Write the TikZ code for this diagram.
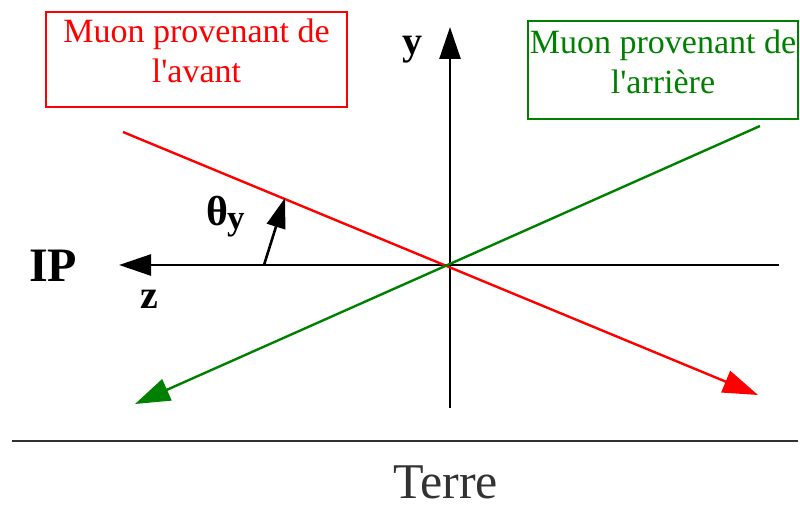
\documentclass[tikz,border=0pt]{standalone}
\usepackage{fontspec}
\setmainfont{Liberation Serif}[Ligatures=TeXOff]
\usetikzlibrary{arrows.meta}
\definecolor{mured}{RGB}{255,0,0}
\definecolor{mugreen}{RGB}{0,128,0}
\definecolor{ground}{RGB}{50,50,50}
\tikzset{
  axis/.style={line width=2.6pt, black, -{Triangle[length=32pt,width=21pt]}},
  track/.style={line width=2.4pt, -{Triangle[length=35pt,width=23pt]}},
  muonbox/.style={draw, line width=2.4pt, inner sep=0pt},
  muontext/.style={align=center, inner sep=0pt, anchor=north,
    font=\fontsize{34}{40}\selectfont},
  axlabel/.style={font=\bfseries\fontsize{40}{40}\selectfont, inner sep=0pt},
}
\begin{document}
\begin{tikzpicture}[x=1pt,y=-1pt]
\useasboundingbox (0,0) rectangle (800,511);
% boxes
\node[muonbox, mured, minimum width=301pt, minimum height=95pt] (front) at (196.5,59.5) {};
\node[muontext, text=mured] (fronttext) at (196.5,19) {Muon provenant de\\l'avant};
\node[muonbox, mugreen, minimum width=270pt, minimum height=98pt] (back) at (663,70) {};
\node[muontext, text=mugreen] (backtext) at (663,30) {Muon provenant de\\l'arrière};
% coordinates
\coordinate (O) at (450,265);
\coordinate (zR) at (779,265);
\coordinate (zL) at (119,265);
\coordinate (yB) at (450,408);
\coordinate (yT) at (450,27);
\coordinate (rS) at (123,132);
\coordinate (rE) at (758,395);
\coordinate (gS) at (760,126);
\coordinate (gE) at (135,404);
\coordinate (tS) at (264,265);
\coordinate (tE) at (285,198);
\coordinate (gl) at (12,441);
\coordinate (gr) at (798,441);
% axes
\draw[axis] (zR) -- (zL);
\draw[axis] (yB) -- (yT);
% tracks
\draw[track, mured] (rS) -- (rE);
\draw[track, mugreen] (gS) -- (gE);
% theta arrow
\draw[line width=2.6pt, -{Triangle[length=30pt,width=19pt]}] (tS) -- (tE);
% labels
\node[axlabel, font=\bfseries\fontsize{48}{48}\selectfont, anchor=base] (ip) at (53,281) {IP};
\node[axlabel, anchor=base] (ylab) at (412,55) {y};
\node[axlabel, anchor=base] (zlab) at (149,308) {z};
\node[axlabel, anchor=base west, font=\bfseries\fontsize{42}{42}\selectfont] (theta) at (206,225)
  {θ\kern-1pt\raisebox{-4pt}{\fontsize{35}{35}\selectfont y}};
% ground
\draw[ground, line width=2.2pt] (gl) -- (gr);
\node[anchor=base, inner sep=0pt, font=\fontsize{50}{50}\selectfont, text=ground] (terre) at (445.5,498) {Terre};
\end{tikzpicture}
\end{document}
